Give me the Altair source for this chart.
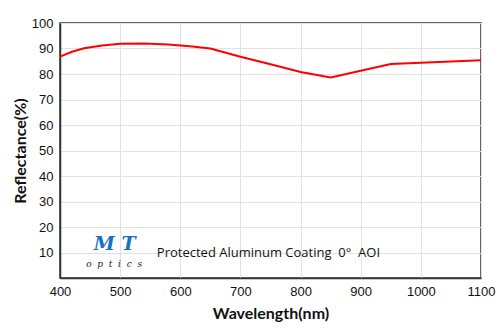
import altair as alt
import pandas as pd

wavelength = [400, 420, 440, 470, 500, 540, 580, 620, 650, 700, 750, 800, 850, 900, 950, 1000, 1050, 1100]
reflectance = [86.8, 88.7, 90.1, 91.2, 91.9, 92.0, 91.6, 90.8, 90.0, 86.8, 83.8, 80.8, 78.6, 81.3, 83.9, 84.4, 84.9, 85.4]
x_ticks = [400, 500, 600, 700, 800, 900, 1000, 1100]
y_ticks = [10, 20, 30, 40, 50, 60, 70, 80, 90, 100]

df = pd.DataFrame({"wl": wavelength, "r": reflectance})

common = dict(ticks=False, labelPadding=7, labelOverlap=False, labelFlush=False, labelBound=False,
              labelFont="Liberation Sans", labelFontSize=13, labelColor="#111", format="d",
              titleFont="Lato", titleFontSize=16, titleFontWeight="bold", titleColor="#111",
              grid=True, gridColor="#e2e2e2", domainColor="#333", domainWidth=1.5)

x = alt.X("wl:Q", scale=alt.Scale(domain=[400, 1100], nice=False),
          axis=alt.Axis(values=x_ticks, title="Wavelength(nm)", titlePadding=7, **common))
y = alt.Y("r:Q", scale=alt.Scale(domain=[0, 100], nice=False),
          axis=alt.Axis(values=y_ticks, title="Reflectance(%)", titlePadding=3, **common))

line = alt.Chart(df).mark_line(color="#ff0000", strokeWidth=2, interpolate="linear").encode(x=x, y=y)

ann = pd.DataFrame({"wl": [561], "r": [9.9], "t": ["Protected Aluminum Coating\u00a0\u00a00°\u00a0\u00a0AOI"]})
text = alt.Chart(ann).mark_text(align="left", baseline="middle", font="Open Sans", fontSize=13,
                                color="#111").encode(x=x, y=y, text="t:N")

logo1 = pd.DataFrame({"wl": [491], "r": [13.2], "t": ["M\u00a0T"]})
mt = alt.Chart(logo1).mark_text(align="center", baseline="middle", font="DejaVu Serif", fontSize=19,
                                fontWeight="bold", fontStyle="italic",
                                color="#1a6fc4").encode(x=x, y=y, text="t:N")
logo2 = pd.DataFrame({"wl": [490], "r": [5.4], "t": ["o\u00a0\u00a0p\u00a0\u00a0t\u00a0\u00a0i\u00a0\u00a0c\u00a0\u00a0s"]})
optics = alt.Chart(logo2).mark_text(align="center", baseline="middle", font="DejaVu Serif", fontSize=9,
                                    fontStyle="italic", color="#222").encode(x=x, y=y, text="t:N")

chart = alt.layer(line, text, mt, optics).properties(
    width=421, height=255, autosize="none",
    padding={"left": 60, "top": 23, "right": 19, "bottom": 56},
    background="white"
).configure_view(stroke="#333", strokeWidth=1.5)

chart.save("out.html", embed_options={"renderer": "svg", "actions": False})
